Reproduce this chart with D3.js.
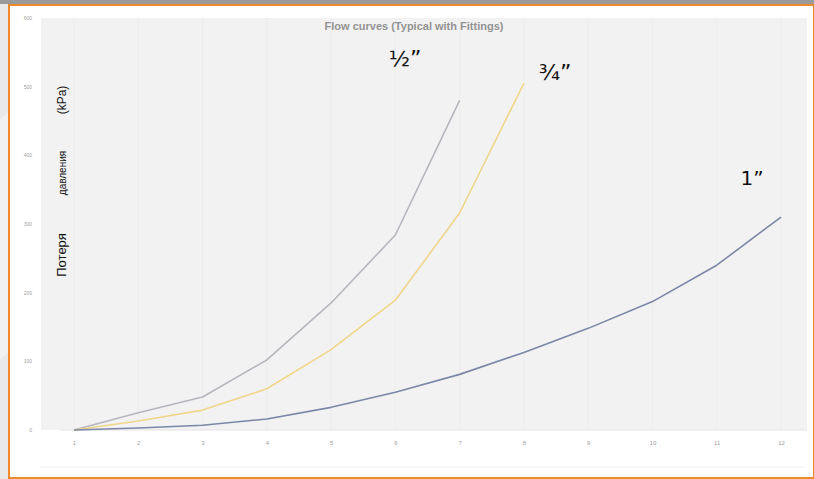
<!DOCTYPE html>
<html>
<head>
<meta charset="utf-8">
<script src="https://cdn.jsdelivr.net/npm/d3@7"></script>
<style>
  body { margin: 0; background: #e9e9e9; }
  svg { display: block; }
</style>
</head>
<body>
<div id="chart"></div>
<script>
// flow rate steps on the x axis
const flowSteps = [1, 2, 3, 4, 5, 6, 7, 8, 9, 10, 11, 12];
const yTicks = [0, 100, 200, 300, 400, 500, 600];

// pressure loss (kPa)
const halfInch = [0, 25, 48, 102, 185, 284, 480];
const threeQuarterInch = [0, 13, 29, 60, 117, 189, 316, 505];
const oneInch = [0, 3, 7, 16, 33, 55, 81, 113, 148, 187, 240, 310];

const seriesNames = ["½”", "¾”", "1”"];
const seriesColors = ["#b6b6be", "#efd68a", "#7c87a8"];

const W = 814, H = 479;
const panel = { left: 41, right: 807, top: 18, bottom: 430 };

const svg = d3.select("#chart").append("svg")
  .attr("width", W)
  .attr("height", H);

// background frame
svg.append("rect").attr("width", W).attr("height", H).attr("fill", "#e9e9e9");
svg.append("path")
  .attr("d", "M0,120 L60,60 L60,300 L0,360 Z")
  .attr("fill", "#f1f1f1");
svg.append("rect").attr("x", 0).attr("y", 0).attr("width", W).attr("height", 4).attr("fill", "#9a9a9a");
svg.append("rect")
  .attr("x", 9).attr("y", 5).attr("width", W - 9).attr("height", 473)
  .attr("fill", "#ffffff")
  .attr("stroke", "#f0892a").attr("stroke-width", 2);

// plot panel
svg.append("rect")
  .attr("x", panel.left).attr("y", panel.top)
  .attr("width", panel.right - panel.left).attr("height", panel.bottom - panel.top)
  .attr("fill", "#f2f2f2");
svg.append("line")
  .attr("x1", 40).attr("x2", 806).attr("y1", 467).attr("y2", 467)
  .attr("stroke", "#f3f3f3");

const x = d3.scaleLinear().domain([1, 12]).range([74, 781]);
const y = d3.scaleLinear().domain([0, 600]).range([430, 18]);

// faint vertical grid
svg.append("g").selectAll("line")
  .data(flowSteps)
  .join("line")
  .attr("x1", d => x(d)).attr("x2", d => x(d))
  .attr("y1", panel.top).attr("y2", panel.bottom)
  .attr("stroke", "#ededed");

// axes
const xAxis = svg.append("g")
  .attr("transform", `translate(0,${y(0) + 8})`)
  .call(d3.axisBottom(x).tickValues(flowSteps).tickSize(0).tickFormat(d3.format("d")));
xAxis.select(".domain").remove();
xAxis.selectAll("text").attr("fill", "#a0a0a0").attr("font-size", 6).attr("font-family", "Arial, sans-serif");

const yAxis = svg.append("g")
  .attr("transform", "translate(35,0)")
  .call(d3.axisLeft(y).tickValues(yTicks).tickSize(0));
yAxis.select(".domain").remove();
yAxis.selectAll("text").attr("fill", "#a0a0a0").attr("font-size", 5).attr("font-family", "Arial, sans-serif");

svg.append("line")
  .attr("x1", 60).attr("x2", panel.right).attr("y1", y(0)).attr("y2", y(0))
  .attr("stroke", "#e4e4e4");

// curves (straight segments between points)
const line = d3.line()
  .x((d, i) => x(flowSteps[i]))
  .y(d => y(d));

[halfInch, threeQuarterInch, oneInch].forEach((vals, i) => {
  svg.append("path")
    .datum(vals)
    .attr("d", line)
    .attr("fill", "none")
    .attr("stroke", seriesColors[i])
    .attr("stroke-width", 1.6)
    .attr("stroke-linejoin", "round");
});

// title
svg.append("text")
  .attr("x", 414).attr("y", 30)
  .attr("text-anchor", "middle")
  .attr("font-family", "Arial, sans-serif")
  .attr("font-weight", "bold")
  .attr("font-size", 11)
  .attr("fill", "#939393")
  .text("Flow curves (Typical with Fittings)");

// series labels
const labelPos = [[405, 66], [555, 80], [752, 185]];
seriesNames.forEach((n, i) => {
  svg.append("text")
    .attr("x", labelPos[i][0]).attr("y", labelPos[i][1])
    .attr("text-anchor", "middle")
    .attr("font-family", "DejaVu Sans, sans-serif")
    .attr("font-size", i === 2 ? 20 : 22)
    .attr("fill", "#111")
    .text(n);
});

// y axis title in three pieces
const yTitle = [["Потеря", 255, 13], ["давления", 173, 10], ["(kPa)", 100, 12]];
yTitle.forEach(([t, cy, fs]) => {
  svg.append("text")
    .attr("transform", `translate(66,${cy}) rotate(-90)`)
    .attr("text-anchor", "middle")
    .attr("font-family", "Arial, sans-serif")
    .attr("font-size", fs)
    .attr("fill", "#111")
    .text(t);
});
</script>
</body>
</html>
